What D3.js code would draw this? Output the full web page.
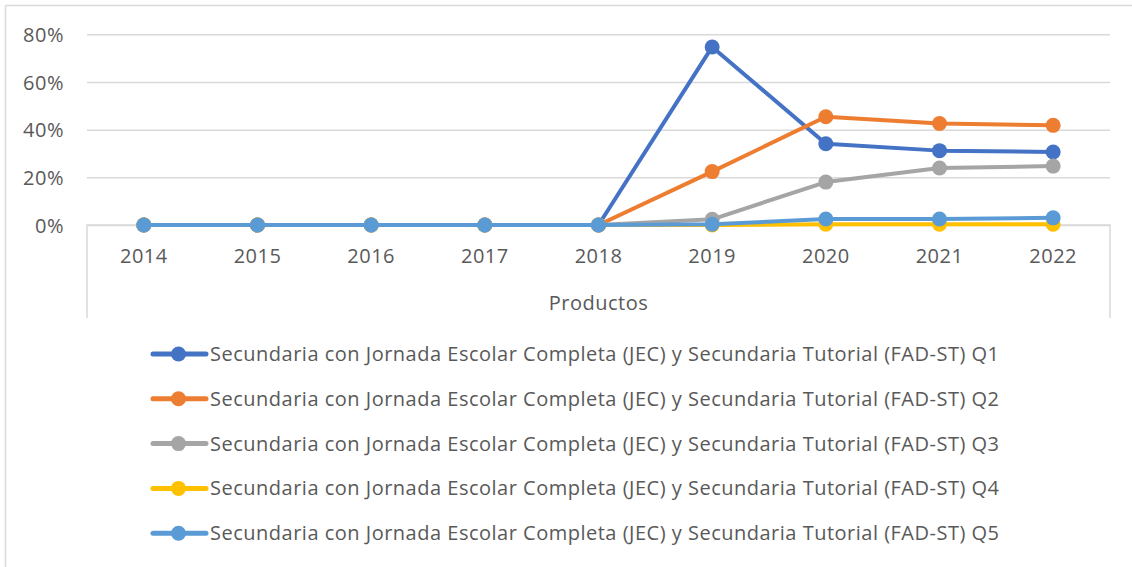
<!DOCTYPE html>
<html>
<head>
<meta charset="utf-8">
<script src="https://cdn.jsdelivr.net/npm/d3@7"></script>
<style>
  body { margin: 0; background: #fff; }
  svg text { font-family: "Open Sans", Lato, sans-serif; fill: #595959; letter-spacing: 0.5px; }
</style>
</head>
<body>
<svg id="chart" width="1132" height="567"></svg>
<script>
// Years on the category axis
const years = ["2014", "2015", "2016", "2017", "2018", "2019", "2020", "2021", "2022"];

// Series labels (quintiles)
const seriesNames = [
  "Secundaria con Jornada Escolar Completa (JEC) y Secundaria Tutorial (FAD-ST) Q1",
  "Secundaria con Jornada Escolar Completa (JEC) y Secundaria Tutorial (FAD-ST) Q2",
  "Secundaria con Jornada Escolar Completa (JEC) y Secundaria Tutorial (FAD-ST) Q3",
  "Secundaria con Jornada Escolar Completa (JEC) y Secundaria Tutorial (FAD-ST) Q4",
  "Secundaria con Jornada Escolar Completa (JEC) y Secundaria Tutorial (FAD-ST) Q5"
];

// Percent values per quintile
const q1 = [0, 0, 0, 0, 0, 74.7, 34.1, 31.2, 30.6];
const q2 = [0, 0, 0, 0, 0, 22.4, 45.4, 42.6, 41.8];
const q3 = [0, 0, 0, 0, 0, 2.4, 18.0, 23.9, 24.7];
const q4 = [0, 0, 0, 0, 0, 0.0, 0.3, 0.3, 0.3];
const q5 = [0, 0, 0, 0, 0, 0.3, 2.5, 2.5, 3.0];

const yTicks = [0, 20, 40, 60, 80];
const xTitle = "Productos";

const colors = ["#4472C4", "#ED7D31", "#A5A5A5", "#FFC000", "#5B9BD5"];
const seriesValues = [q1, q2, q3, q4, q5];

const svg = d3.select("#chart");
const gridColor = "#D9D9D9";
const fontSize = 20;

const plot = { left: 87, right: 1110, top: 34.3, bottom: 225 };

const x = d3.scaleBand().domain(years).range([plot.left, plot.right]);
const y = d3.scaleLinear().domain([0, 80]).range([plot.bottom, plot.top]);
const cx = d => x(d) + x.bandwidth() / 2;

// Chart area frame (top and left edges)
svg.append("line").attr("x1", 5.5).attr("y1", 5.5).attr("x2", 1132).attr("y2", 5.5)
  .attr("stroke", gridColor).attr("stroke-width", 1.5);
svg.append("line").attr("x1", 5.5).attr("y1", 5.5).attr("x2", 5.5).attr("y2", 567)
  .attr("stroke", gridColor).attr("stroke-width", 1.5);

// Horizontal gridlines and value labels
const yAxis = d3.axisLeft(y)
  .tickValues(yTicks)
  .tickSize(-(plot.right - plot.left))
  .tickPadding(23)
  .tickFormat(d => d + "%");

const gy = svg.append("g")
  .attr("transform", `translate(${plot.left},0)`)
  .call(yAxis);
gy.select(".domain").remove();
gy.selectAll(".tick line").attr("stroke", gridColor).attr("stroke-width", 1.5);
gy.selectAll(".tick text")
  .attr("font-size", fontSize)
  .attr("dy", "0.36em")
  .style("fill", "#595959");

// Category axis with its box sides
const xAxis = d3.axisBottom(x).tickSize(0).tickPadding(0);
const gx = svg.append("g")
  .attr("transform", `translate(0,${plot.bottom})`)
  .call(xAxis);
gx.select(".domain").remove();
gx.selectAll(".tick text")
  .attr("font-size", fontSize)
  .attr("y", 38)
  .attr("dy", 0)
  .style("fill", "#595959");

const axisBox = svg.append("g").attr("stroke", gridColor).attr("stroke-width", 1.5).attr("fill", "none");
axisBox.append("path")
  .attr("d", `M${plot.left},318 V${plot.bottom} H${plot.right} V318`);

svg.append("text")
  .attr("x", (plot.left + plot.right) / 2)
  .attr("y", 310)
  .attr("text-anchor", "middle")
  .attr("font-size", fontSize)
  .text(xTitle);

// Series lines and markers
const line = d3.line()
  .x((d, i) => cx(years[i]))
  .y(d => y(d));

seriesValues.forEach((vals, si) => {
  const g = svg.append("g");
  g.append("path")
    .datum(vals)
    .attr("d", line)
    .attr("fill", "none")
    .attr("stroke", colors[si])
    .attr("stroke-width", 4)
    .attr("stroke-linejoin", "round");
  g.selectAll("circle")
    .data(vals)
    .join("circle")
    .attr("cx", (d, i) => cx(years[i]))
    .attr("cy", d => y(d))
    .attr("r", 7.5)
    .attr("fill", colors[si]);
});

// Legend
const legendTop = 354;
const legendStep = 44.8;
const legend = svg.append("g");
seriesNames.forEach((name, i) => {
  const ly = legendTop + i * legendStep;
  legend.append("line")
    .attr("x1", 153).attr("x2", 206)
    .attr("y1", ly).attr("y2", ly)
    .attr("stroke", colors[i])
    .attr("stroke-width", 5)
    .attr("stroke-linecap", "round");
  legend.append("circle")
    .attr("cx", 178.5).attr("cy", ly).attr("r", 7.5)
    .attr("fill", colors[i]);
  legend.append("text")
    .attr("x", 210)
    .attr("y", ly + 7)
    .attr("font-size", fontSize)
    .text(name);
});
</script>
</body>
</html>
